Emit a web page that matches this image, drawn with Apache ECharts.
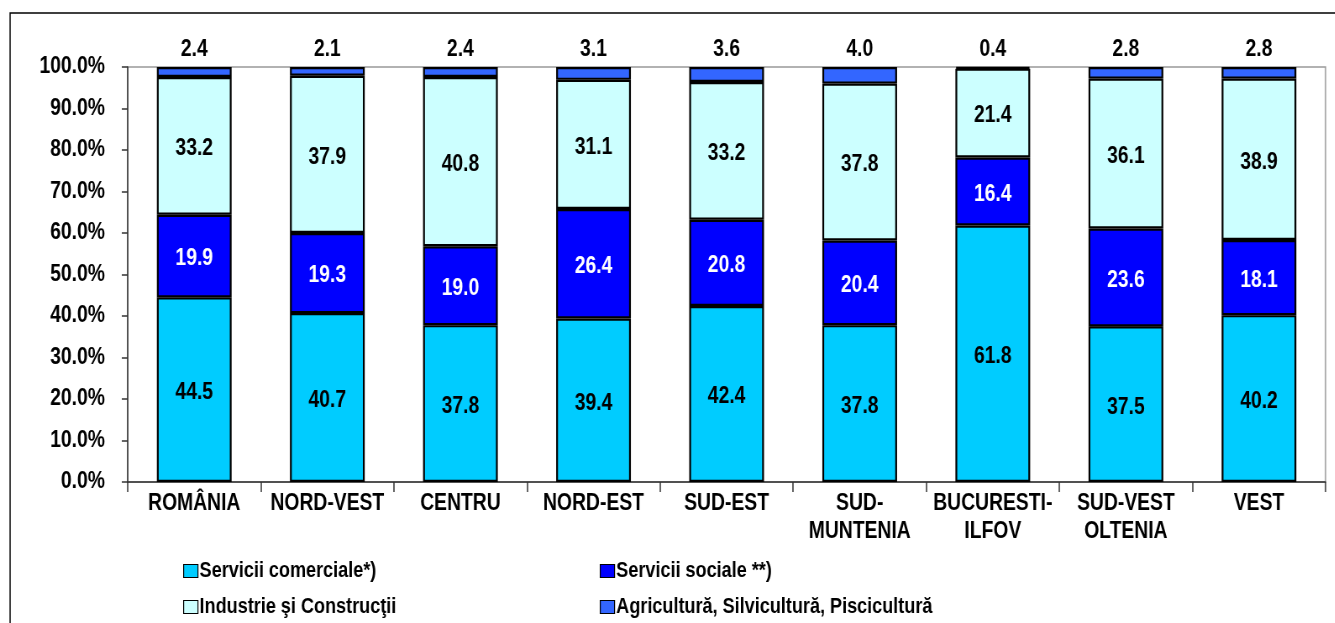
<!DOCTYPE html>
<html>
<head>
<meta charset="utf-8">
<script src="https://cdn.jsdelivr.net/npm/echarts@6/dist/echarts.min.js"></script>
<style>
html,body{margin:0;padding:0;background:#fff;overflow:hidden;width:1335px;height:623px}
#c{width:1590px;height:623px;transform:scaleX(0.84);transform-origin:0 0}
</style>
</head>
<body>
<div id="c"></div>
<script>
const categories = ['ROMÂNIA','NORD-VEST','CENTRU','NORD-EST','SUD-EST','SUD-\nMUNTENIA','BUCURESTI-\nILFOV','SUD-VEST\nOLTENIA','VEST'];
const seriesNames = ['Servicii comerciale*)','Servicii sociale **)','Industrie şi Construcţii','Agricultură, Silvicultură, Piscicultură'];
const serviciiComerciale = [44.5, 40.7, 37.8, 39.4, 42.4, 37.8, 61.8, 37.5, 40.2];
const serviciiSociale    = [19.9, 19.3, 19.0, 26.4, 20.8, 20.4, 16.4, 23.6, 18.1];
const industrie          = [33.2, 37.9, 40.8, 31.1, 33.2, 37.8, 21.4, 36.1, 38.9];
const agricultura        = [2.4, 2.1, 2.4, 3.1, 3.6, 4.0, 0.4, 2.8, 2.8];
const yTicks = [0,10,20,30,40,50,60,70,80,90,100];

const FONT = "'Liberation Sans',Arial,sans-serif";
const colors = ['#00CCFF','#0000FF','#CCFFFF','#3366FF'];
const values = [serviciiComerciale, serviciiSociale, industrie, agricultura];
const labelColors = ['#000','#fff','#000','#000'];

const chart = echarts.init(document.getElementById('c'));
const series = values.map((vals, i) => ({
  name: seriesNames[i],
  type: 'bar',
  stack: 'total',
  barWidth: 89,
  data: vals,
  itemStyle: { color: colors[i], borderColor: '#000', borderWidth: 2.2 },
  label: {
    show: true,
    position: i === 3 ? 'top' : 'inside',
    distance: 6,
    offset: i === 3 ? [0, 0] : [0, 3],
    formatter: p => p.value.toFixed(1),
    color: labelColors[i],
    fontFamily: FONT,
    fontWeight: 'bold',
    fontSize: 23
  }
}));

function legendAt(name, left, top) {
  return {
    orient: 'horizontal', left: left, top: top, padding: 0, itemWidth: 17, itemHeight: 13,
    icon: 'rect',
    itemStyle: { borderColor: '#000', borderWidth: 1.2 },
    data: [name],
    textStyle: { fontFamily: FONT, fontWeight: 'bold', fontSize: 21.5, color: '#000', padding: [0,0,0,-3] }
  };
}

chart.setOption({
  animation: false,
  graphic: [{
    type: 'rect',
    shape: { x: 12, y: 13, width: 1700, height: 700 },
    style: { fill: 'none', stroke: '#000', lineWidth: 1.5 },
    silent: true
  }],
  grid: { left: 152, top: 67, width: 1426, height: 415, show: true, borderColor: '#999', borderWidth: 1.5, backgroundColor: 'transparent' },
  legend: [
    legendAt(seriesNames[0], 218, 560),
    legendAt(seriesNames[2], 218, 596),
    legendAt(seriesNames[1], 714, 560),
    legendAt(seriesNames[3], 714, 596)
  ],
  xAxis: {
    type: 'category',
    data: categories,
    axisLine: { lineStyle: { color: '#333', width: 1.5 } },
    axisTick: { show: true, length: 10, alignWithLabel: false, lineStyle: { color: '#333', width: 1.5 } },
    axisLabel: { fontFamily: FONT, fontWeight: 'bold', fontSize: 23, color: '#000', margin: 8, lineHeight: 28, interval: 0 }
  },
  yAxis: {
    type: 'value',
    min: 0, max: 100, interval: 10,
    splitLine: { show: false },
    axisLine: { show: true, lineStyle: { color: '#333', width: 1.5 } },
    axisTick: { show: true, length: 7, lineStyle: { color: '#333', width: 1.5 } },
    axisLabel: { fontFamily: FONT, fontWeight: 'bold', fontSize: 23, color: '#000', margin: 27,
      formatter: v => (yTicks.indexOf(v) >= 0 ? v.toFixed(1) + '%' : '') }
  },
  series: series
});
</script>
</body>
</html>
